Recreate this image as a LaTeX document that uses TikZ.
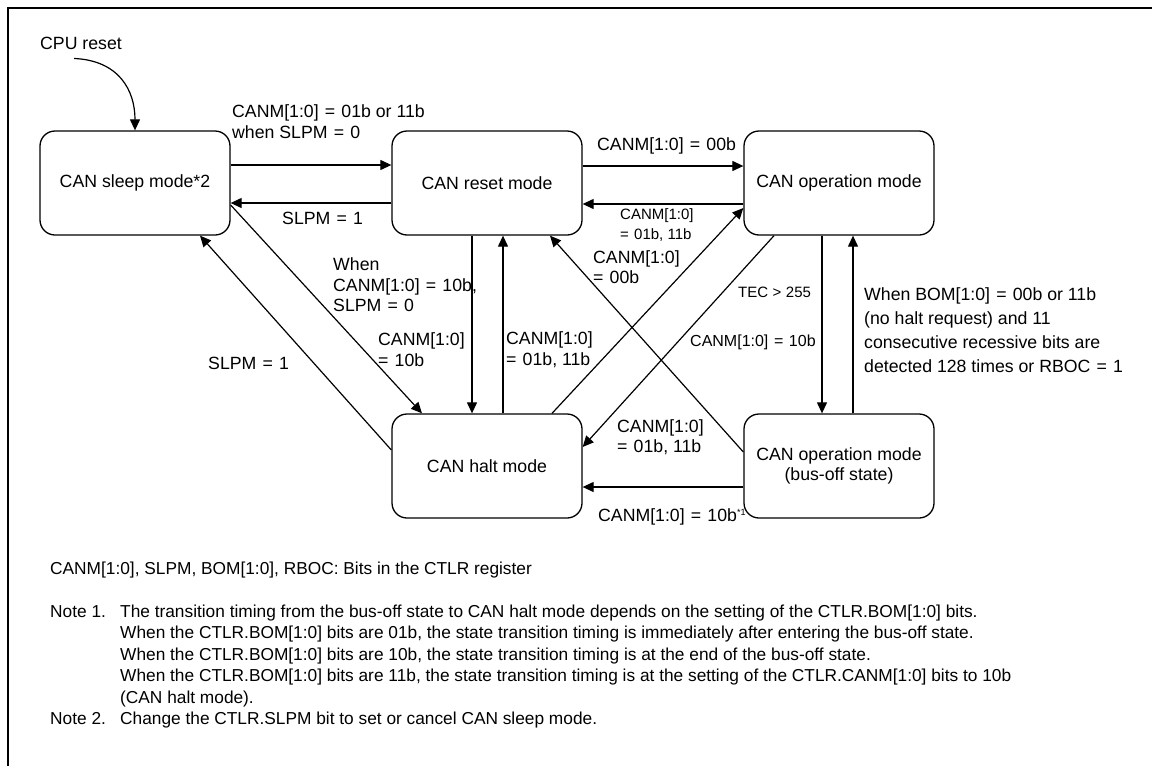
\documentclass[tikz,border=0pt]{standalone}
\usepackage{fontspec}
\setmainfont{Liberation Sans}
\usetikzlibrary{arrows.meta}
\newcommand{\eqsign}{\hspace{0.35em}=\hspace{0.35em}}
\newcommand{\fsMain}{\fontsize{17.7}{20.5}\selectfont}
\newcommand{\fsMid}{\fontsize{16}{20}\selectfont}
\newcommand{\fsSmall}{\fontsize{15}{20}\selectfont}
\newcommand{\fsNote}{\fontsize{17.3}{22}\selectfont}
\begin{document}
\begin{tikzpicture}[x=1pt,y=-1pt,
  state/.style={draw, line width=1.3pt, rounded corners=15pt, minimum width=190pt,
    minimum height=104pt, align=center, font=\fsMain, inner sep=0pt},
  trans/.style={line width=1.2pt, -{Triangle[length=11pt,width=10pt]}},
  lbl/.style={anchor=west, align=left, inner sep=0pt, font=\fsMain},
  note/.style={anchor=west, inner sep=0pt, font=\fsNote, text height=12pt, text depth=3.5pt}]
\useasboundingbox (0,0) rectangle (1152,766);
% outer frame
\draw[line width=2pt] (8,766) -- (8,7.5) -- (1152,7.5);

% states
\node[state] (sleep)  at (135,183) {CAN sleep mode*2};
\node[state] (reset)  at (487,183) {CAN reset mode};
\node[state] (op)     at (839,183) {CAN operation mode};
\node[state] (halt)   at (487,466) {CAN halt mode};
\node[state] (busoff) at (839,466) {CAN operation mode\\(bus-off state)};

% initial transition
\node[lbl] (cpu) at (40,43) {CPU reset};
\draw[trans] ([shift={(-7pt,-9pt)}]cpu.south) .. controls +(45pt,-2pt) and +(0pt,40pt) .. (sleep.north);

% transitions
\draw[trans] ([yshift=18pt]sleep.east) -- ([yshift=18pt]reset.west);
\draw[trans] ([yshift=-20pt]reset.west) -- ([yshift=-20pt]sleep.east);
\draw[trans] ([yshift=17pt]reset.east) -- ([yshift=17pt]op.west);
\draw[trans] ([yshift=-21pt]op.west) -- ([yshift=-21pt]reset.east);
\draw[trans] ([xshift=-15pt]reset.south) -- ([xshift=-15pt]halt.north);
\draw[trans] ([xshift=16pt]halt.north) -- ([xshift=16pt]reset.south);
\draw[trans] ([xshift=-17pt]op.south) -- ([xshift=-17pt]busoff.north);
\draw[trans] ([xshift=14pt]busoff.north) -- ([xshift=14pt]op.south);
\draw[trans] ([yshift=-21pt]busoff.west) -- ([yshift=-21pt]halt.east);
\draw[trans] ([yshift=-22pt]sleep.east) -- ([xshift=-65pt]halt.north);
\draw[trans] ([yshift=16pt]halt.west) -- ([xshift=65pt]sleep.south);
\draw[trans] ([xshift=65pt]halt.north) -- ([yshift=-25pt]op.west);
\draw[trans] ([xshift=-65pt]op.south) -- ([yshift=19pt]halt.east);
\draw[trans] ([yshift=14pt]busoff.west) -- ([xshift=63pt]reset.south);

% transition labels
\node[lbl] (l1) at (232,121.5) {CANM[1:0]\eqsign01b or 11b\\when SLPM\eqsign0};
\node[lbl] (l2) at (282,218) {SLPM\eqsign1};
\node[lbl] (l3) at (597,146) {CANM[1:0]\eqsign00b};
\node[lbl, font=\fsSmall] (l4) at (620,225) {CANM[1:0]\\=\hspace{0.35em}01b, 11b};
\node[lbl] (l5) at (593,267) {CANM[1:0]\\=\hspace{0.35em}00b};
\node[lbl] (l6) at (333,285) {When\\CANM[1:0]\eqsign10b,\\SLPM\eqsign0};
\node[lbl] (l7) at (378,349.5) {CANM[1:0]\\=\hspace{0.35em}10b};
\node[lbl] (l8) at (506,349.5) {CANM[1:0]\\=\hspace{0.35em}01b, 11b};
\node[lbl] (l9) at (208,363) {SLPM\eqsign1};
\node[lbl, font=\fsSmall] (l10) at (738,292) {TEC\hspace{0.3em}>\hspace{0.3em}255};
\node[lbl, font=\fsMid] (l11) at (690,342) {CANM[1:0]\eqsign10b};
\node[lbl, font=\fontsize{17.7}{24}\selectfont] (l12) at (864,330)
  {When BOM[1:0]\eqsign00b or 11b\\(no halt request) and 11\\consecutive recessive bits are\\detected 128 times or RBOC\eqsign1};
\node[lbl] (l13) at (617,437) {CANM[1:0]\\=\hspace{0.35em}01b, 11b};
\node[lbl] (l14) at (598,517) {CANM[1:0]\eqsign10b\textsuperscript{\fontsize{9}{9}\selectfont *1}};

% register legend and notes
\node[note] (reg) at (50,570) {CANM[1:0], SLPM, BOM[1:0], RBOC: Bits in the CTLR register};
\node[note] (n1)  at (50,613) {Note 1.};
\node[note] (n1a) at (120,613) {The transition timing from the bus-off state to CAN halt mode depends on the setting of the CTLR.BOM[1:0] bits.};
\node[note] (n1b) at (120,634.5) {When the CTLR.BOM[1:0] bits are 01b, the state transition timing is immediately after entering the bus-off state.};
\node[note] (n1c) at (120,656) {When the CTLR.BOM[1:0] bits are 10b, the state transition timing is at the end of the bus-off state.};
\node[note] (n1d) at (120,677.5) {When the CTLR.BOM[1:0] bits are 11b, the state transition timing is at the setting of the CTLR.CANM[1:0] bits to 10b};
\node[note] (n1e) at (120,699) {(CAN halt mode).};
\node[note] (n2)  at (50,720.5) {Note 2.};
\node[note] (n2a) at (120,720.5) {Change the CTLR.SLPM bit to set or cancel CAN sleep mode.};
\end{tikzpicture}
\end{document}
